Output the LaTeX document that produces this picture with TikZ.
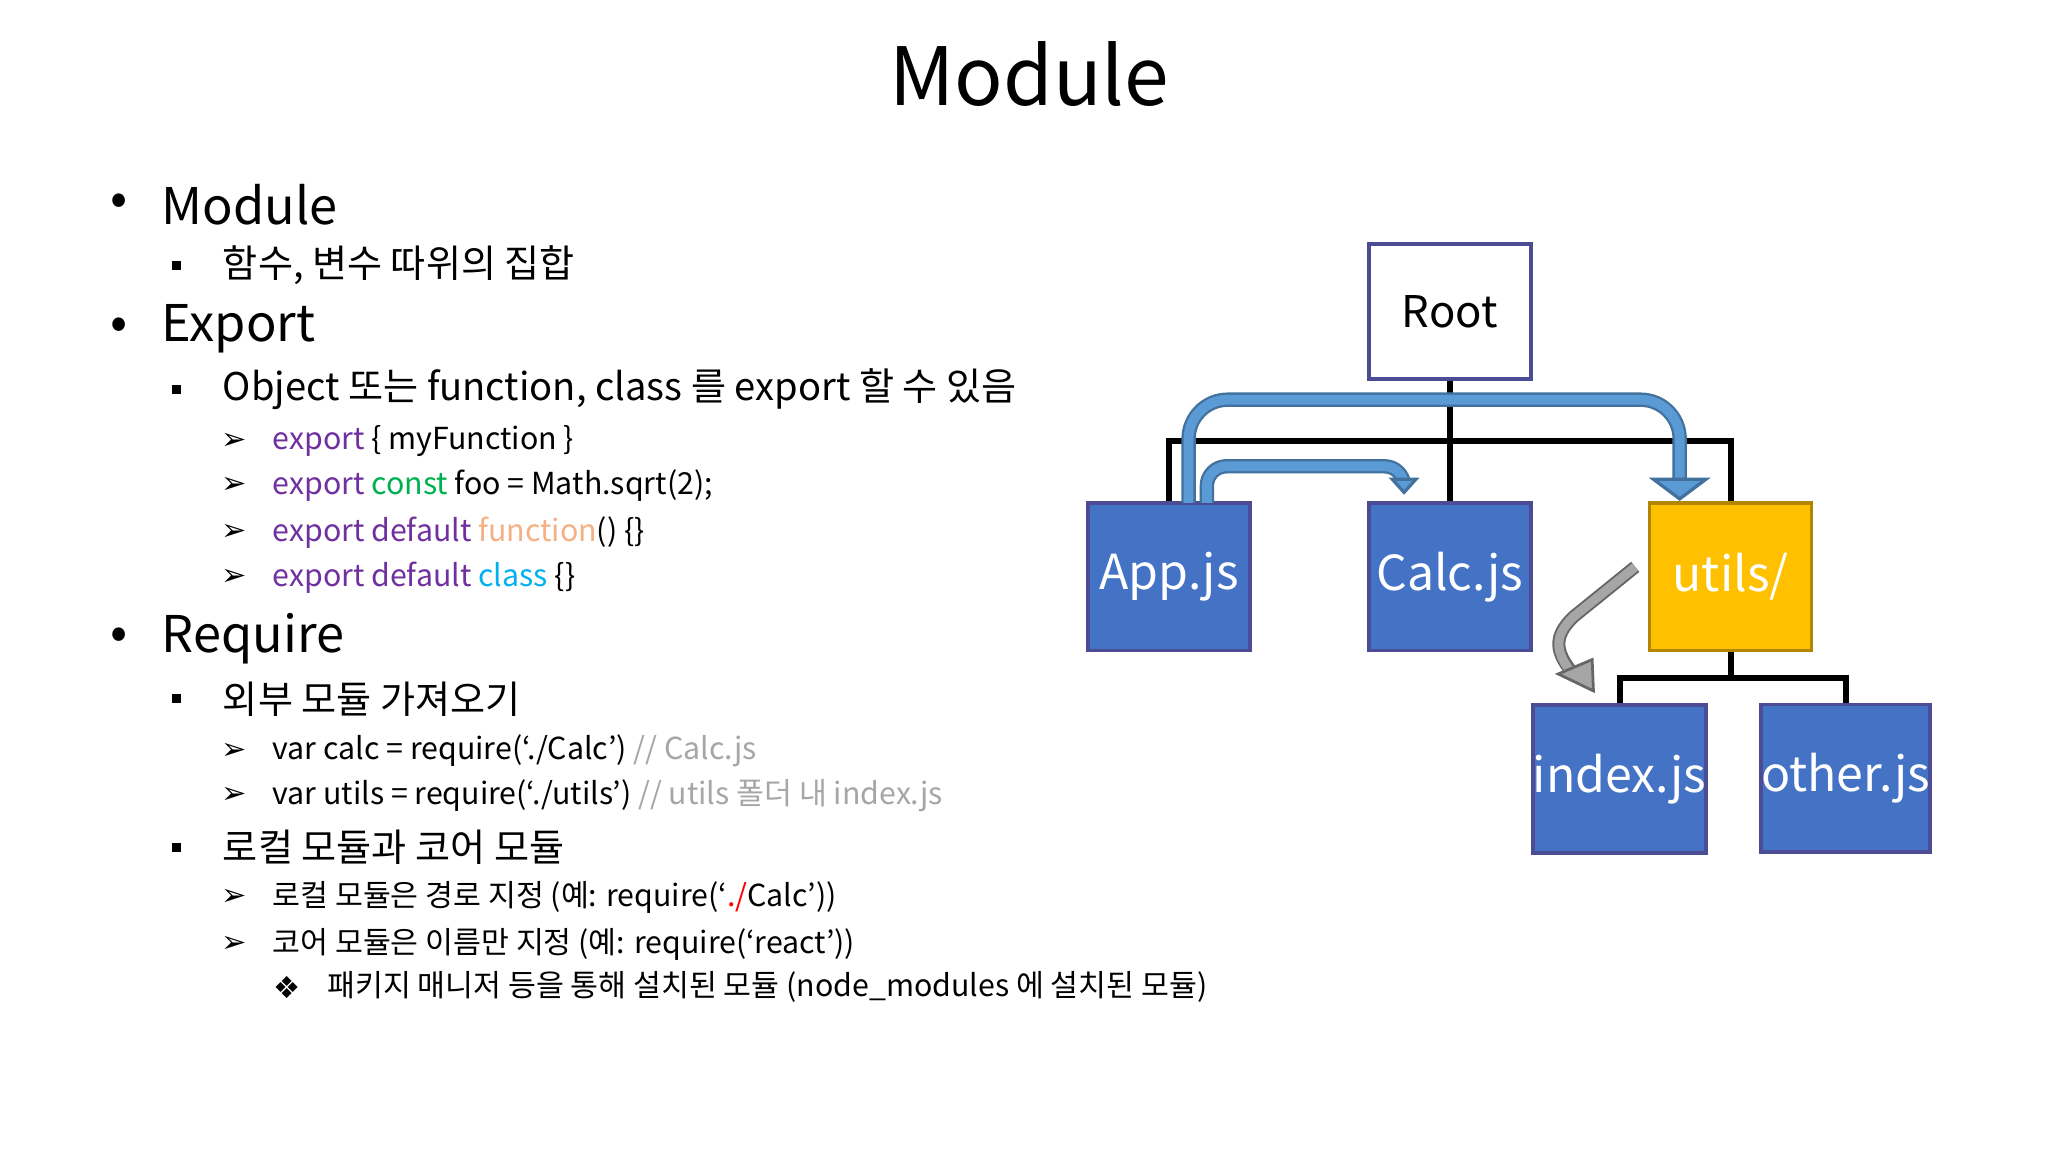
\documentclass[tikz,border=0pt]{standalone}
\usepackage{fontspec}
\setmainfont{Noto Sans CJK KR}
\usepackage{amssymb}
\newfontfamily\symf{DejaVu Sans}
\begin{document}
\begin{tikzpicture}[x=0.01cm,y=-0.01cm,
 lone/.style={anchor=west,inner sep=0,font=\fontsize{11}{13}\selectfont},
 ltwo/.style={anchor=west,inner sep=0,font=\fontsize{8.3}{10}\selectfont},
 lthree/.style={anchor=west,inner sep=0,font=\fontsize{6.6}{8}\selectfont},
 box/.style={draw=blue!40!black!70,line width=0.8pt,fill=bl,text=white,minimum width=1.24cm,minimum height=1.13cm,inner sep=0,font=\fontsize{10.5}{12}\selectfont},
 conn/.style={line width=1.3pt,black},
 bigarrow/.style={line width=0.11cm,color=ao,rounded corners=0.3cm},
 bigarrowin/.style={line width=0.075cm,color=ai,rounded corners=0.3cm}]
\definecolor{bl}{HTML}{4472C4}
\definecolor{ye}{HTML}{FFC000}
\definecolor{ai}{HTML}{5B9BD5}
\definecolor{ao}{HTML}{41719C}
\definecolor{pu}{HTML}{7030A0}
\definecolor{gr}{HTML}{00B050}
\definecolor{or}{HTML}{F4B183}
\definecolor{cy}{HTML}{00B0F0}
\definecolor{cm}{HTML}{A6A6A6}
\useasboundingbox[fill=white] (0,0) rectangle (1568,882);
\node[inner sep=0,font=\fontsize{17.5}{20}\selectfont] (title) at (788,57) {Module};
% bullets
\foreach \y/\n in {157/b1,252/b2,489/b3}{\node[lone] (\n) at (84,\y) {•};}
\foreach \y/\n in {203/s1,298/s2,535/s3,649/s4}{\node[inner sep=0,fill=black,minimum size=0.07cm] (\n) at (135,\y) {};}
\foreach \y/\n in {338/t1,372/t2,408/t3,442/t4,575/t5,609/t6,687/t7,723/t8}{\node[lthree] (\n) at (169,\y) {\symf ➢};}
\node[lthree] (t9) at (209,756) {\symf ❖};
\node[lone] (l1) at (123,157) {Module};
\node[ltwo] (l2) at (170,203) {함수, 변수 따위의 집합};
\node[lone] (l3) at (123,252) {Export};
\node[ltwo] (l4) at (170,298) {Object 또는 function, class 를 export 할 수 있음};
\node[lthree] (l5) at (208,338) {\textcolor{pu}{export} \{ myFunction \}};
\node[lthree] (l6) at (208,372) {\textcolor{pu}{export} \textcolor{gr}{const} foo = Math.sqrt(2);};
\node[lthree] (l7) at (208,408) {\textcolor{pu}{export default} \textcolor{or}{function}() \{\}};
\node[lthree] (l8) at (208,442) {\textcolor{pu}{export default} \textcolor{cy}{class} \{\}};
\node[lone] (l9) at (123,489) {Require};
\node[ltwo] (l10) at (170,535) {외부 모듈 가져오기};
\node[lthree] (l11) at (208,575) {var calc = require(‘./Calc’) \textcolor{cm}{// Calc.js}};
\node[lthree] (l12) at (208,609) {var utils = require(‘./utils’) \textcolor{cm}{// utils 폴더 내 index.js}};
\node[ltwo] (l13) at (170,649) {로컬 모듈과 코어 모듈};
\node[lthree] (l14) at (208,687) {로컬 모듈은 경로 지정 (예: require(‘\textcolor{red}{./}Calc’))};
\node[lthree] (l15) at (208,723) {코어 모듈은 이름만 지정 (예: require(‘react’))};
\node[lthree] (l16) at (250,756) {패키지 매니저 등을 통해 설치된 모듈 (node\_modules 에 설치된 모듈)};
% tree
\node[box,fill=white,text=black,font=\fontsize{9.5}{11}\selectfont,minimum height=1.03cm] (root) at (1110,238.5) {Root};
\node[box] (app) at (895,441.5) {App.js};
\node[box] (calc) at (1110,441.5) {Calc.js};
\node[box,fill=ye,draw=ye!70!black] (utils) at (1325,441.5) {utils/};
\node[box] (index) at (1240,596.5) {index.js};
\node[box] (other) at (1413,596) {other.js};
\draw[conn] (root.south) -- (1110,338);
\draw[conn] (app.north) |- (1110,338) -| (utils.north);
\draw[conn] (1110,338) -- (calc.north);
\draw[conn] (utils.south) -- (1325,519);
\draw[conn] (index.north) |- (1325,519) -| (other.north);
% blue arrows
\coordinate (a1) at (910,385);
\coordinate (a2) at (924,385);
\draw[bigarrow] (a1) -- (910,306) -- (1286,306) -- (1286,368);
\draw[bigarrowin] (a1) -- (910,306) -- (1286,306) -- (1286,369);
\filldraw[fill=ai,draw=ao,line width=0.7pt] (1266,367) -- (1306,367) -- (1286,382) -- cycle;
\draw[bigarrow,rounded corners=0.15cm] (a2) -- (924,357) -- (1075,357) -- (1075,368);
\draw[bigarrowin,rounded corners=0.15cm] (a2) -- (924,357) -- (1075,357) -- (1075,369);
\filldraw[fill=ai,draw=ao,line width=0.7pt] (1066,367) -- (1084,367) -- (1075,377) -- cycle;
% gray arrow
\draw[line width=0.1cm,color=gray!80!black] (1252,434) -- (1205,472) .. controls (1188,488) and (1192,500) .. (1203,514);
\draw[line width=0.07cm,color=gray!70] (1252,434) -- (1205,472) .. controls (1188,488) and (1192,500) .. (1203,515);
\filldraw[fill=gray!70,draw=gray!80!black,line width=0.6pt] (1193,516) -- (1219,505) -- (1220,529) -- cycle;
\end{tikzpicture}
\end{document}
